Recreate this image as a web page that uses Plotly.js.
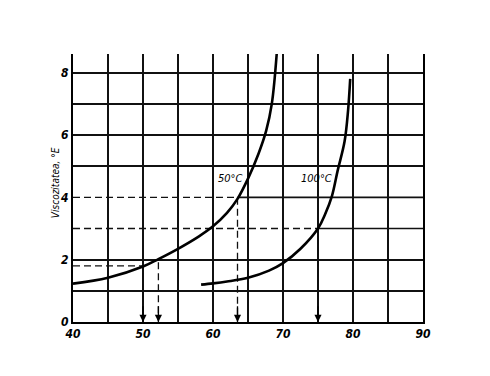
<!DOCTYPE html>
<html>
<head>
<meta charset="utf-8">
<script src="https://cdn.plot.ly/plotly-3.0.1.min.js"></script>
<style>html,body{margin:0;padding:0;background:#fff;}#chart{width:490px;height:376px;}</style>
</head>
<body>
<div id="chart"></div>
<script>
// 50 °C viscosity curve (temperature axis vs °E)
const curve50X = [40, 45, 50, 52.2, 55, 58, 60, 62, 63.5, 65, 66.5, 67.6, 68.4, 69.1];
const curve50Y = [1.23, 1.42, 1.78, 2.02, 2.35, 2.75, 3.07, 3.5, 3.95, 4.6, 5.4, 6.14, 7.0, 8.6];
// 100 °C viscosity curve
const curve100X = [58.3, 60, 62, 65, 68, 70, 72.5, 75, 76, 77, 77.8, 78.8, 79.3, 79.6];
const curve100Y = [1.2, 1.24, 1.3, 1.42, 1.65, 1.89, 2.35, 3.0, 3.45, 4.05, 4.85, 5.8, 6.8, 7.8];
// reading guides (dashed lines with arrows)
const readX = [50, 52.2, 63.5, 75];
const readY = [1.8, 2.0, 4.0, 3.0];
// curve labels
const labelText = ['50°C', '100°C'];
const labelX = [62.5, 74.8];
const labelY = [4.6, 4.6];
// ticks
const xTicks = [40, 50, 60, 70, 80, 90];
const yTicks = [0, 2, 4, 6, 8];
const yGrid = [0, 1, 2, 5, 6, 7, 8];   // full-width horizontal rules
const yTitle = 'Viscozitatea, °E';

const FONT = '"Liberation Sans Narrow", "DejaVu Sans Condensed", "Liberation Sans", Arial, sans-serif';

const traces = [];
// dashed guide lines
for (let i = 0; i < readX.length; i++) {
  traces.push({
    x: [40, readX[i], readX[i]],
    y: [readY[i], readY[i], 0],
    mode: 'lines',
    line: {color: '#111', width: 1.3, dash: '7px,4px'},
    hoverinfo: 'skip', showlegend: false
  });
  // rule continues solid to the right of the reading point when it sits on a grid value
  if (Number.isInteger(readY[i]) && yGrid.indexOf(readY[i]) < 0) {
    traces.push({
      x: [readX[i], 90], y: [readY[i], readY[i]], mode: 'lines',
      line: {color: '#111', width: 1.6}, hoverinfo: 'skip', showlegend: false
    });
  }
}
traces.push({x: curve50X, y: curve50Y, mode: 'lines', line: {color: '#000', width: 2.6, shape: 'spline', smoothing: 1}, showlegend: false});
traces.push({x: curve100X, y: curve100Y, mode: 'lines', line: {color: '#000', width: 2.6, shape: 'spline', smoothing: 1}, showlegend: false});

const annotations = [];
for (let i = 0; i < readX.length; i++) {
  annotations.push({
    x: readX[i], y: 0, xref: 'x', yref: 'y',
    ax: readX[i], ay: 0.55, axref: 'x', ayref: 'y',
    showarrow: true, arrowhead: 2, arrowsize: 1.1, arrowwidth: 1.3, arrowcolor: '#000', text: ''
  });
}
for (let i = 0; i < labelText.length; i++) {
  annotations.push({
    x: labelX[i], y: labelY[i], xref: 'x', yref: 'y', text: labelText[i], showarrow: false,
    font: {family: FONT, size: 11, color: '#000', style: 'italic'}
  });
}
annotations.push({
  x: -0.05, y: 0.52, xref: 'paper', yref: 'paper', xanchor: 'center', yanchor: 'middle',
  text: yTitle, showarrow: false, textangle: -90,
  font: {family: FONT, size: 10, color: '#000', style: 'italic'}
});

const gridCol = '#111';
const tickFont = {family: FONT, size: 12, color: '#000', style: 'italic', weight: 'bold'};
const layout = {
  width: 490, height: 376,
  margin: {l: 73, r: 67, t: 54, b: 54},
  paper_bgcolor: '#fff', plot_bgcolor: '#fff',
  showlegend: false,
  xaxis: {
    range: [40, 90], tickvals: xTicks, ticktext: xTicks.map(String),
    showgrid: true, gridcolor: gridCol, gridwidth: 1.8,
    minor: {dtick: 5, tick0: 40, showgrid: true, gridcolor: gridCol, gridwidth: 1.8},
    showline: true, linecolor: '#000', linewidth: 2, zeroline: false, ticks: '',
    tickfont: tickFont, fixedrange: true
  },
  yaxis: {
    range: [0, 8.6], tickvals: yTicks, ticktext: yTicks.map(String),
    showgrid: false,
    showline: true, mirror: true, linecolor: '#000', linewidth: 2, zeroline: false, ticks: '',
    tickfont: tickFont, fixedrange: true
  },
  yaxis2: {
    overlaying: 'y', side: 'left', range: [0, 8.6], tickvals: yGrid,
    showticklabels: false, showgrid: true, gridcolor: gridCol, gridwidth: 1.8,
    zeroline: false, showline: false, ticks: '', fixedrange: true
  },
  annotations: annotations
};
traces.push({x: [40], y: [0], yaxis: 'y2', mode: 'markers', marker: {opacity: 0}, hoverinfo: 'skip', showlegend: false});

Plotly.newPlot('chart', traces, layout, {staticPlot: true, displayModeBar: false});
</script>
</body>
</html>
